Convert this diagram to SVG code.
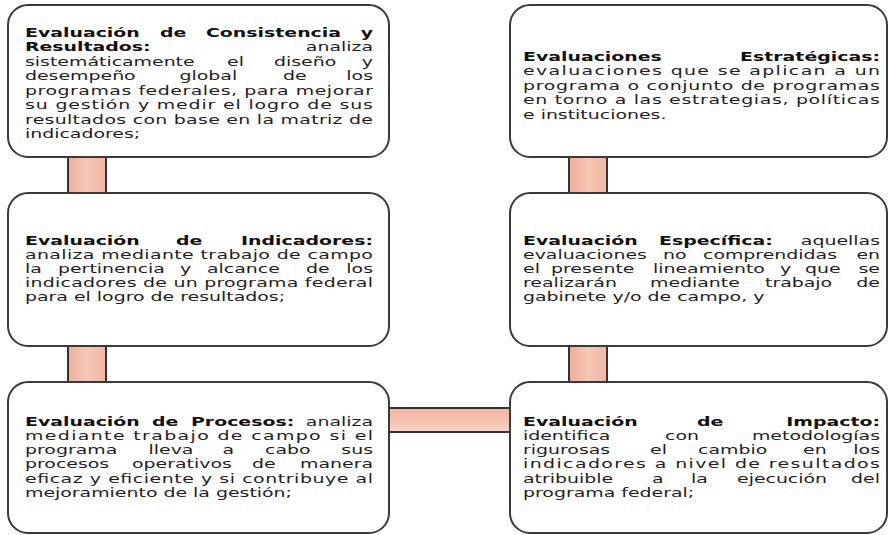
<svg xmlns="http://www.w3.org/2000/svg" width="889" height="535" viewBox="0 0 889 535">
<style>
.box{fill:#ffffff;stroke:#3a3a3a;stroke-width:2}
.bar{stroke:#333333;stroke-width:2}
text{font-family:"DejaVu Sans","Verdana","Liberation Sans",sans-serif;font-size:13px;fill:#1e1e1e}
.b{font-weight:bold;fill:#111111}
.e{text-anchor:end}
</style>
<defs>
<linearGradient id="gv" x1="0" y1="0" x2="1" y2="0">
<stop offset="0" stop-color="#EFAE98"/>
<stop offset="0.5" stop-color="#F6C6B5"/>
<stop offset="1" stop-color="#F2B7A3"/>
</linearGradient>
<linearGradient id="gh" x1="0" y1="0" x2="0" y2="1">
<stop offset="0" stop-color="#F3B6A2"/>
<stop offset="0.6" stop-color="#F6C4B3"/>
<stop offset="1" stop-color="#F9D8CC"/>
</linearGradient>
</defs>
<rect width="889" height="535" fill="#ffffff"/>
<g id="connectors">
<rect class="bar" x="68" y="156" width="38" height="38" fill="url(#gv)"/>
<rect class="bar" x="68" y="345" width="38" height="38" fill="url(#gv)"/>
<rect class="bar" x="569" y="156" width="38" height="38" fill="url(#gv)"/>
<rect class="bar" x="569" y="345" width="38" height="38" fill="url(#gv)"/>
<rect class="bar" x="388" y="408" width="123" height="24" fill="url(#gh)"/>
</g>
<g id="node-consistencia">
<rect class="box" x="8" y="5" width="381" height="152" rx="20"/>
<text class="b" transform="translate(25 36.5) scale(1.454 1)">Evaluación</text>
<text class="b" transform="translate(160 36.5) scale(1.454 1)">de</text>
<text class="b" transform="translate(206 36.5) scale(1.454 1)">Consistencia</text>
<text class="b e" transform="translate(373 36.5) scale(1.454 1)">y</text>
<text class="b" transform="translate(25 51) scale(1.454 1)">Resultados:</text>
<text class="e" transform="translate(373 51) scale(1.454 1)">analiza</text>
<text transform="translate(25 65.5) scale(1.454 1)">sistemáticamente</text>
<text transform="translate(227 65.5) scale(1.454 1)">el</text>
<text transform="translate(274 65.5) scale(1.454 1)">diseño</text>
<text class="e" transform="translate(373 65.5) scale(1.454 1)">y</text>
<text transform="translate(25 80) scale(1.454 1)">desempeño</text>
<text transform="translate(179.5 80) scale(1.454 1)">global</text>
<text transform="translate(283 80) scale(1.454 1)">de</text>
<text class="e" transform="translate(373 80) scale(1.454 1)">los</text>
<text transform="translate(25 94.5) scale(1.454 1)" textLength="239.3" lengthAdjust="spacing">programas federales, para mejorar</text>
<text transform="translate(25 109) scale(1.454 1)" textLength="239.3" lengthAdjust="spacing">su gestión y medir el logro de sus</text>
<text transform="translate(25 123.5) scale(1.454 1)" textLength="239.3" lengthAdjust="spacing">resultados con base en la matriz de</text>
<text transform="translate(25 138) scale(1.454 1)">indicadores;</text>
</g>
<g id="node-indicadores">
<rect class="box" x="8" y="193" width="381" height="153" rx="20"/>
<text class="b" transform="translate(25 245) scale(1.454 1)">Evaluación</text>
<text class="b" transform="translate(176 245) scale(1.454 1)">de</text>
<text class="b e" transform="translate(373 245) scale(1.454 1)">Indicadores:</text>
<text transform="translate(25 259) scale(1.454 1)" textLength="239.3" lengthAdjust="spacing">analiza mediante trabajo de campo</text>
<text transform="translate(25 273) scale(1.454 1)">la</text>
<text transform="translate(58 273) scale(1.454 1)">pertinencia</text>
<text transform="translate(180 273) scale(1.454 1)">y</text>
<text transform="translate(207 273) scale(1.454 1)">alcance</text>
<text transform="translate(306 273) scale(1.454 1)">de</text>
<text class="e" transform="translate(373 273) scale(1.454 1)">los</text>
<text transform="translate(25 287) scale(1.454 1)" textLength="239.3" lengthAdjust="spacing">indicadores de un programa federal</text>
<text transform="translate(25 301) scale(1.454 1)">para el logro de resultados;</text>
</g>
<g id="node-procesos">
<rect class="box" x="8" y="382" width="381" height="151" rx="20"/>
<text class="b" transform="translate(25 425.5) scale(1.454 1)">Evaluación</text>
<text class="b" transform="translate(152 425.5) scale(1.454 1)">de</text>
<text class="b" transform="translate(191 425.5) scale(1.454 1)">Procesos:</text>
<text class="e" transform="translate(373 425.5) scale(1.454 1)">analiza</text>
<text transform="translate(25 439.8) scale(1.454 1)" textLength="239.3" lengthAdjust="spacing">mediante trabajo de campo si el</text>
<text transform="translate(25 454.1) scale(1.454 1)">programa</text>
<text transform="translate(148.5 454.1) scale(1.454 1)">lleva</text>
<text transform="translate(222.5 454.1) scale(1.454 1)">a</text>
<text transform="translate(265 454.1) scale(1.454 1)">cabo</text>
<text class="e" transform="translate(373 454.1) scale(1.454 1)">sus</text>
<text transform="translate(25 468.4) scale(1.454 1)">procesos</text>
<text transform="translate(132 468.4) scale(1.454 1)">operativos</text>
<text transform="translate(252 468.4) scale(1.454 1)">de</text>
<text class="e" transform="translate(373 468.4) scale(1.454 1)">manera</text>
<text transform="translate(25 482.7) scale(1.454 1)" textLength="239.3" lengthAdjust="spacing">eficaz y eficiente y si contribuye al</text>
<text transform="translate(25 497) scale(1.454 1)">mejoramiento de la gestión;</text>
</g>
<g id="node-estrategicas">
<rect class="box" x="510" y="5" width="377" height="152" rx="20"/>
<text class="b" transform="translate(523 60.5) scale(1.454 1)">Evaluaciones</text>
<text class="b e" transform="translate(880 60.5) scale(1.454 1)">Estratégicas:</text>
<text transform="translate(523 75) scale(1.454 1)" textLength="245.5" lengthAdjust="spacing">evaluaciones que se aplican a un</text>
<text transform="translate(523 89.5) scale(1.454 1)" textLength="245.5" lengthAdjust="spacing">programa o conjunto de programas</text>
<text transform="translate(523 104) scale(1.454 1)" textLength="245.5" lengthAdjust="spacing">en torno a las estrategias, políticas</text>
<text transform="translate(523 118.5) scale(1.454 1)">e instituciones.</text>
</g>
<g id="node-especifica">
<rect class="box" x="510" y="193" width="377" height="153" rx="20"/>
<text class="b" transform="translate(523 245) scale(1.454 1)">Evaluación</text>
<text class="b" transform="translate(659 245) scale(1.454 1)">Específica:</text>
<text class="e" transform="translate(880 245) scale(1.454 1)">aquellas</text>
<text transform="translate(523 259) scale(1.454 1)">evaluaciones</text>
<text transform="translate(663 259) scale(1.454 1)">no</text>
<text transform="translate(703 259) scale(1.454 1)">comprendidas</text>
<text class="e" transform="translate(880 259) scale(1.454 1)">en</text>
<text transform="translate(523 273) scale(1.454 1)">el</text>
<text transform="translate(551 273) scale(1.454 1)">presente</text>
<text transform="translate(653 273) scale(1.454 1)">lineamiento</text>
<text transform="translate(780 273) scale(1.454 1)">y</text>
<text transform="translate(805 273) scale(1.454 1)">que</text>
<text class="e" transform="translate(880 273) scale(1.454 1)">se</text>
<text transform="translate(523 287) scale(1.454 1)">realizarán</text>
<text transform="translate(650 287) scale(1.454 1)">mediante</text>
<text transform="translate(765 287) scale(1.454 1)">trabajo</text>
<text class="e" transform="translate(880 287) scale(1.454 1)">de</text>
<text transform="translate(523 301) scale(1.454 1)">gabinete y/o de campo, y</text>
</g>
<g id="node-impacto">
<rect class="box" x="510" y="382" width="377" height="151" rx="20"/>
<text class="b" transform="translate(523 425.5) scale(1.454 1)">Evaluación</text>
<text class="b" transform="translate(697 425.5) scale(1.454 1)">de</text>
<text class="b e" transform="translate(880 425.5) scale(1.454 1)">Impacto:</text>
<text transform="translate(523 439.8) scale(1.454 1)">identifica</text>
<text transform="translate(665 439.8) scale(1.454 1)">con</text>
<text class="e" transform="translate(880 439.8) scale(1.454 1)">metodologías</text>
<text transform="translate(523 454.1) scale(1.454 1)">rigurosas</text>
<text transform="translate(650 454.1) scale(1.454 1)">el</text>
<text transform="translate(698 454.1) scale(1.454 1)">cambio</text>
<text transform="translate(803 454.1) scale(1.454 1)">en</text>
<text class="e" transform="translate(880 454.1) scale(1.454 1)">los</text>
<text transform="translate(523 468.4) scale(1.454 1)" textLength="245.5" lengthAdjust="spacing">indicadores a nivel de resultados</text>
<text transform="translate(523 482.7) scale(1.454 1)">atribuible</text>
<text transform="translate(652 482.7) scale(1.454 1)">a</text>
<text transform="translate(691 482.7) scale(1.454 1)">la</text>
<text transform="translate(737 482.7) scale(1.454 1)">ejecución</text>
<text class="e" transform="translate(880 482.7) scale(1.454 1)">del</text>
<text transform="translate(523 497) scale(1.454 1)">programa federal;</text>
</g>
</svg>
